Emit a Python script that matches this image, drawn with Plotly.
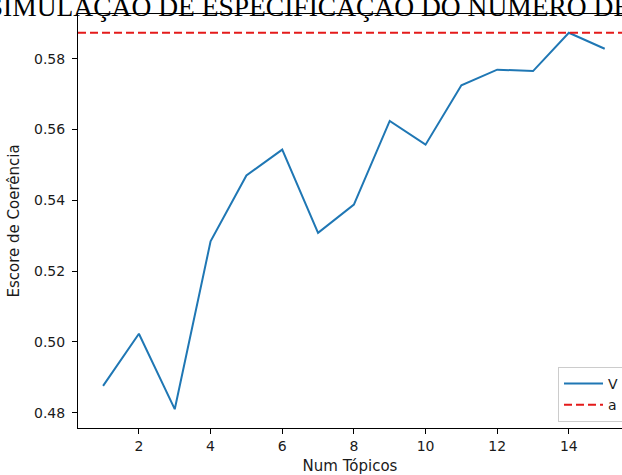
import plotly.graph_objects as go

# Data
topics = [1, 2, 3, 4, 5, 6, 7, 8, 9, 10, 11, 12, 13, 14, 15]
coherence = [0.4876, 0.5023, 0.4810, 0.5284, 0.5470, 0.5543, 0.5308, 0.5388, 0.5624, 0.5557,
             0.5725, 0.5769, 0.5765, 0.5873, 0.5828]
x_ticks = [2, 4, 6, 8, 10, 12, 14]
y_ticks = [0.48, 0.50, 0.52, 0.54, 0.56, 0.58]
threshold = max(coherence)

title_text = "SIMULAÇÃO DE ESPECIFICAÇÃO DO NÚMERO DE TÓPICOS"
series_name = "V"
threshold_name = "a"

W, H = 622, 475
ML, MT = 78, 14
MB = H - 428
plot_w = W - ML

# matplotlib-like 5% margins
x_lo = min(topics) - 0.05 * (max(topics) - min(topics))
px_per_unit = 35.83
x_hi = x_lo + plot_w / px_per_unit
y_span = max(coherence) - min(coherence)
y_lo = min(coherence) - 0.05 * y_span
y_hi = max(coherence) + 0.05 * y_span

tick_font = dict(family="DejaVu Sans", size=14, color="#1a1a1a")
label_font = dict(family="DejaVu Sans", size=15, color="#1a1a1a")

fig = go.Figure()
fig.add_trace(go.Scatter(
    x=topics, y=coherence, mode="lines", name=series_name,
    line=dict(color="#1f77b4", width=2),
))
fig.add_shape(
    type="line", xref="x domain", x0=0, x1=1, yref="y", y0=threshold, y1=threshold,
    line=dict(color="#e41a1a", width=2, dash="8px,4px"),
    showlegend=True, name=threshold_name,
)

fig.update_layout(
    width=W, height=H,
    margin=dict(l=ML, r=0, t=MT, b=MB, pad=0, autoexpand=False),
    paper_bgcolor="white", plot_bgcolor="white",
    title=dict(
        text=title_text, xref="paper", x=(369.5 - ML) / plot_w, xanchor="center",
        yref="container", y=1 - 6 / H, yanchor="middle",
        font=dict(family="Liberation Serif", size=27.5, color="black"),
    ),
    showlegend=True,
    legend=dict(
        xref="container", yref="container",
        x=558 / W, xanchor="left", y=1 - 367 / H, yanchor="top",
        bgcolor="rgba(255,255,255,0.8)", bordercolor="#cccccc", borderwidth=1,
        font=dict(family="DejaVu Sans", size=14, color="#1a1a1a"),
        tracegroupgap=0, itemwidth=39,
    ),
)
fig.update_xaxes(
    range=[x_lo, x_hi], tickvals=x_ticks, ticktext=[str(v) for v in x_ticks],
    showgrid=False, zeroline=False, showline=True, mirror=True,
    linecolor="black", linewidth=1,
    ticks="outside", ticklen=5, tickwidth=1, tickcolor="black",
    tickfont=tick_font,
    title=dict(text="Num Tópicos", font=label_font, standoff=21),
)
fig.update_yaxes(
    range=[y_lo, y_hi], tickvals=y_ticks, ticktext=[f"{v:.2f}" for v in y_ticks],
    showgrid=False, zeroline=False, showline=True, mirror=False,
    linecolor="black", linewidth=1,
    ticks="outside", ticklen=5, tickwidth=1, tickcolor="black",
    tickfont=tick_font, ticklabelstandoff=4,
    title=dict(text="Escore de Coerência", font=label_font, standoff=10),
)

fig.write_html("out.html", config={"displayModeBar": False},
               post_script="document.body.style.margin='0px';")
